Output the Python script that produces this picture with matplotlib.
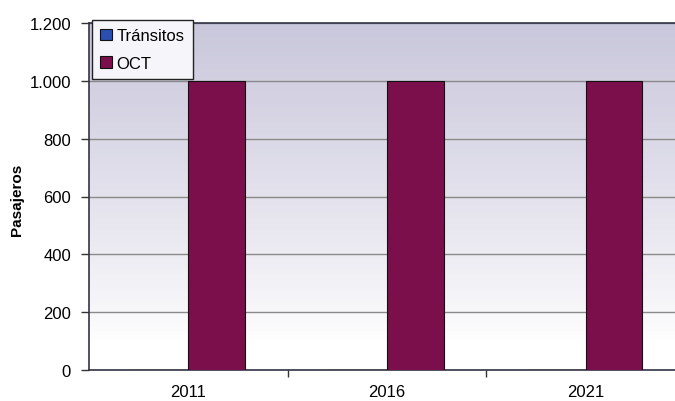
import numpy as np
import matplotlib
matplotlib.use("Agg")
import matplotlib.pyplot as plt
from matplotlib.ticker import FuncFormatter, FixedLocator

years = ["2011", "2016", "2021"]
transitos = [0, 0, 0]
oct_vals = [1000, 1000, 1000]
y_ticks = [0, 200, 400, 600, 800, 1000, 1200]

plt.rcParams["font.family"] = ["Liberation Sans", "DejaVu Sans"]

fig = plt.figure(figsize=(6.75, 4.02), dpi=100)
fig.patch.set_facecolor("white")
ax = fig.add_axes([89 / 675, 1 - 371 / 402, 596 / 675, (371 - 24) / 402])

# vertical lavender-to-white background
t = np.linspace(0, 1, 256)[:, None]
f = np.clip((t - 0.08) / 0.92, 0, 1) ** 0.85
lav = np.array([0.79, 0.78, 0.86])
wht = np.array([1.0, 1.0, 1.0])
grad = wht[None, None, :] * (1 - f[..., None]) + lav[None, None, :] * f[..., None]
grad = np.repeat(grad, 2, axis=1)
ax.imshow(grad, extent=[0, 1, 0, 1], transform=ax.transAxes, origin="lower",
          aspect="auto", zorder=0, interpolation="bilinear")

x = np.arange(len(years))
w = 0.286
ax.bar(x - w / 2, transitos, w, color="#2a4fb0", edgecolor="#111111",
       linewidth=0.8, label="Tránsitos", zorder=3)
ax.bar(x + w / 2, oct_vals, w, color="#7b0f4c", edgecolor="#111111",
       linewidth=0.8, label="OCT", zorder=3)

ax.set_xlim(-0.5, 2.5)
ax.set_ylim(0, 1200)
ax.yaxis.set_major_locator(FixedLocator(y_ticks))
ax.yaxis.set_major_formatter(FuncFormatter(lambda v, p: f"{int(v):,}".replace(",", ".")))
ax.set_xticks(x)
ax.set_xticklabels(years)
ax.set_xticks([0.5, 1.5], minor=True)
ax.tick_params(axis="x", which="major", length=0, pad=10, labelsize=12)
ax.tick_params(axis="x", which="minor", length=5, width=1, color="#333333", direction="out")
ax.tick_params(axis="y", length=6, width=1, color="#333333", direction="out", pad=7, labelsize=12)

ax.grid(axis="y", color="#8a8a8a", linewidth=1.0, zorder=1)
ax.set_axisbelow(True)
for s in ["left", "bottom", "top"]:
    ax.spines[s].set_color("#333344")
    ax.spines[s].set_linewidth(1.2)
ax.spines["right"].set_visible(False)

fig.text(17 / 675, 1 - 200 / 402, "Pasajeros", rotation=90, fontsize=11,
         fontweight="bold", ha="center", va="center")

leg = ax.legend(loc="upper left", bbox_to_anchor=(92 / 675, 1 - 21 / 402),
                bbox_transform=fig.transFigure, fontsize=12, frameon=True,
                fancybox=False, handlelength=0.7, handleheight=0.7,
                handletextpad=0.25, borderpad=0.5, labelspacing=0.75,
                borderaxespad=0)
leg.get_frame().set_edgecolor("#222222")
leg.get_frame().set_linewidth(1.0)
leg.get_frame().set_facecolor("#f6f6fa")
leg.get_frame().set_alpha(1)
leg.set_zorder(5)

fig.savefig("out.png", dpi=100)
